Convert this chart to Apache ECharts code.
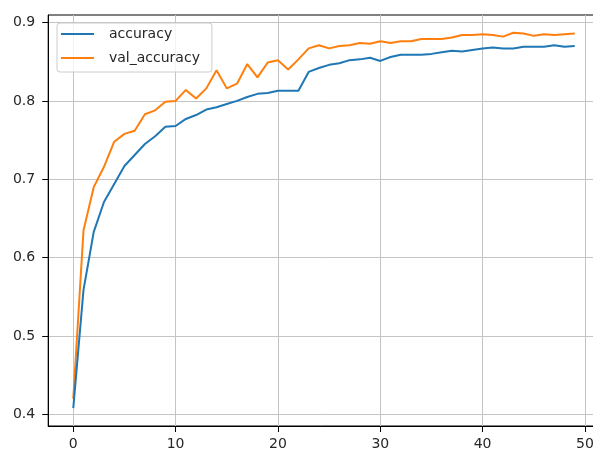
<!DOCTYPE html>
<html>
<head>
<meta charset="utf-8">
<script src="https://cdn.jsdelivr.net/npm/echarts@6/dist/echarts.min.js"></script>
<style>html,body{margin:0;padding:0;background:#fff;}#c{width:593px;height:451px;}</style>
</head>
<body>
<div id="c"></div>
<script>
const epochs = [0,1,2,3,4,5,6,7,8,9,10,11,12,13,14,15,16,17,18,19,20,21,22,23,24,25,26,27,28,29,30,31,32,33,34,35,36,37,38,39,40,41,42,43,44,45,46,47,48,49];
const accuracy = [0.408,0.559,0.633,0.671,0.694,0.717,0.731,0.745,0.755,0.767,0.768,0.777,0.782,0.789,0.792,0.796,0.800,0.805,0.809,0.810,0.813,0.813,0.813,0.837,0.842,0.846,0.848,0.852,0.853,0.855,0.851,0.856,0.859,0.859,0.859,0.860,0.862,0.864,0.863,0.865,0.867,0.868,0.867,0.867,0.869,0.869,0.869,0.871,0.869,0.870];
const valAccuracy = [0.420,0.635,0.690,0.716,0.748,0.758,0.762,0.783,0.788,0.799,0.800,0.814,0.803,0.816,0.839,0.816,0.822,0.847,0.830,0.849,0.852,0.840,0.853,0.867,0.871,0.867,0.870,0.871,0.874,0.873,0.876,0.874,0.876,0.876,0.879,0.879,0.879,0.881,0.884,0.884,0.885,0.884,0.882,0.887,0.886,0.883,0.885,0.884,0.885,0.886];
const xTicks = [0,10,20,30,40,50];
const yTicks = [0.4,0.5,0.6,0.7,0.8,0.9];

const font = {fontFamily:'DejaVu Sans', fontSize:14, color:'#262626'};
const chart = echarts.init(document.getElementById('c'), null, {renderer:'canvas'});
chart.setOption({
  animation:false,
  backgroundColor:'#fff',
  grid:{left:48.2, top:15, width:551.6, height:411, outerBoundsMode:'none', containLabel:false, show:true, borderColor:'#000', borderWidth:1, backgroundColor:'transparent'},
  legend:{
    orient:'vertical', left:57, top:23,
    padding:[4,12,7,4], itemGap:10,
    itemWidth:33, itemHeight:2, icon:'rect',
    backgroundColor:'rgba(255,255,255,0.8)', borderColor:'#cccccc', borderWidth:1, borderRadius:3,
    textStyle:{fontFamily:'DejaVu Sans', fontSize:14, color:'#262626', padding:[0,0,0,10]},
    data:['accuracy','val_accuracy']
  },
  xAxis:{
    type:'value', min:-2.45, max:51.45,
    axisLine:{show:true, onZero:false, lineStyle:{color:'#000', width:1}},
    axisTick:{show:true, length:6, lineStyle:{color:'#000'}, customValues:xTicks},
    axisLabel:Object.assign({margin:11, customValues:xTicks, formatter:v=>String(v)}, font),
    splitLine:{show:true, lineStyle:{color:'#c4c4c4', width:1}}
  },
  yAxis:{
    type:'value', min:0.3853, max:0.9096,
    axisLine:{show:true, onZero:false, lineStyle:{color:'#000', width:1}},
    axisTick:{show:true, length:6, lineStyle:{color:'#000'}, customValues:yTicks},
    axisLabel:Object.assign({margin:13, customValues:yTicks, formatter:v=>v.toFixed(1)}, font),
    splitLine:{show:true, lineStyle:{color:'#c4c4c4', width:1}}
  },
  series:[
    {name:'accuracy', type:'line', data:epochs.map((e,i)=>[e,accuracy[i]]), showSymbol:false, symbol:'none', lineStyle:{color:'#1f77b4', width:2}, itemStyle:{color:'#1f77b4'}, z:3},
    {name:'val_accuracy', type:'line', data:epochs.map((e,i)=>[e,valAccuracy[i]]), showSymbol:false, symbol:'none', lineStyle:{color:'#ff7f0e', width:2}, itemStyle:{color:'#ff7f0e'}, z:2}
  ]
});
</script>
</body>
</html>
